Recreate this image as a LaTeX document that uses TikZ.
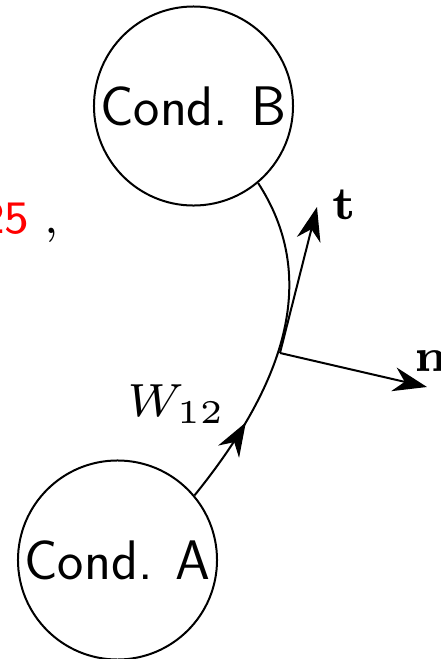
\documentclass[tikz,border=0pt]{standalone}
\usepackage{tikz}
\usetikzlibrary{arrows.meta,decorations.markings}
\usepackage{xcolor}
\usepackage{amsmath}

\begin{document}
\begin{tikzpicture}[x=0.31pt, y=0.31pt, line width=0.62pt,
        cond/.style={draw, circle, minimum size=61.7pt, inner sep=0pt, font=\LARGE\sffamily},
        vec/.style={-{Stealth[length=10.5pt, width=7.5pt]}},
        lbl/.style={font=\scriptsize, scale=2.06, inner sep=0pt},
        midarrow/.style={postaction={decorate}, decoration={markings,
            mark=at position #1 with {\arrow{Stealth[length=10.5pt, width=7.5pt]}}}}]
    \useasboundingbox (0,0) rectangle (441,659);

    % Conductors
    \node[cond] (condA) at (117.5,99) {Cond. A};
    \node[cond] (condB) at (193.5,553) {Cond. B};

    % Field line from A to B
    \draw[midarrow=0.26] (condA.40) .. controls +(51:150) and +(-57:110) .. (condB.-50);
    \node[lbl] (w12) at (176.5,255) {$W_{12}$};

    % Tangent and normal
    \coordinate (p) at (280,306);
    \coordinate (tTip) at (317,452);
    \coordinate (nTip) at (427,272);
    \draw[vec] (p) -- (tTip);
    \draw[vec] (p) -- (nTip);
    \node[lbl] (tLabel) at (344,454) {$\mathbf{t}$};
    \node[lbl, anchor=west] (nLabel) at (412,298) {$\mathbf{n}$};

    % Value cut by the edge
    \node[lbl, font=\scriptsize\sffamily, anchor=base west] (val) at (-22,426) {\textcolor{red}{25}\hspace{0.3em}$,$};
\end{tikzpicture}
\end{document}
